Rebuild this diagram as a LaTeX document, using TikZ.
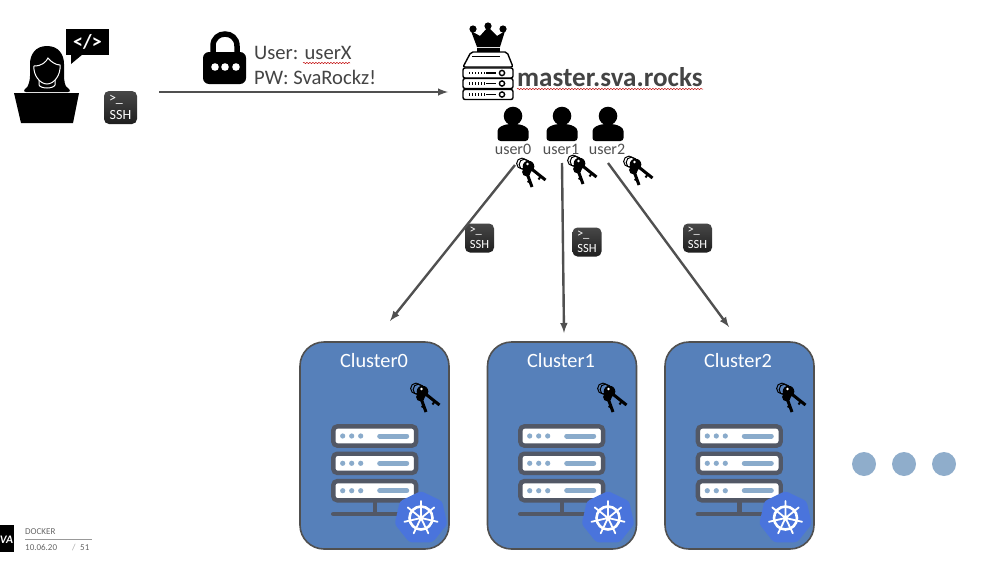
\documentclass[tikz,border=0pt]{standalone}
\usepackage{fontspec}
\setmainfont{Carlito}
\usetikzlibrary{arrows}
\usetikzlibrary{decorations.pathmorphing}
\definecolor{linegray}{HTML}{505050}
\definecolor{textgray}{HTML}{444444}
\definecolor{clusterblue}{HTML}{5680BA}
\definecolor{rackgray}{HTML}{525866}
\definecolor{rackblue}{HTML}{8AABCB}
\definecolor{kubeblue}{HTML}{4A74DC}
\definecolor{moreblue}{HTML}{8FADCB}
\tikzset{
  keys/.pic={
    \draw[line width=1pt] (-9,-8.5) circle[radius=5.4];
    \draw[line width=1pt] (-6.5,-7.5) circle[radius=5.4];
    \fill (-2.5,-5.5) circle[radius=5.8];
    \fill (-4.5,0) circle[radius=4.4];
    \draw[line width=3pt] (-2.5,-5.5)--(14.5,8);
    \draw[line width=3pt] (-4.5,0)--(1,15);
    \draw[line width=2pt] (10,4)--(7.5,7.5);
    \draw[line width=2pt] (-1,9)--(-3.5,10);
    \fill[white] (-3.5,-8) circle[radius=1.3];
  },
  person/.pic={
    \fill (0,-9) circle[radius=9.3];
    \fill[rounded corners=3pt] (-15.5,16)--(-15.5,9) .. controls (-15.5,2) and (-9,0) .. (-4,-1)--(4,-1) .. controls (9,0) and (15.5,2) .. (15.5,9)--(15.5,16)--cycle;
  },
  rackrow/.pic={
    \draw[rackgray,fill=white,line width=4.4pt,rounded corners=4pt] (-41.4,-9.6) rectangle (41.4,9.6);
    \fill[rackblue] (-32,0) circle[radius=2.6];
    \fill[rackblue] (-23,0) circle[radius=2.6];
    \fill[rackblue] (-14,0) circle[radius=2.6];
    \draw[rackblue,line width=5pt,line cap=round] (5,0)--(32,0);
  },
  rack/.pic={
    \pic at (0,0) {rackrow};
    \pic at (0,27.3) {rackrow};
    \pic at (0,54.7) {rackrow};
    \draw[rackgray,line width=4.4pt] (0,64)--(0,78);
    \draw[rackgray,line width=4.6pt,line cap=round] (-41.4,78)--(30,78);
  },
  kube/.pic={
    \fill[kubeblue,rounded corners=3pt] (-90:27)--(-38.6:27)--(12.9:27)--(64.3:27)--(115.7:27)--(167.1:27)--(218.6:27)--cycle;
    \draw[white,line width=2.6pt] (0,0) circle[radius=11.5];
    \fill[white] (0,0) circle[radius=2.6];
    \draw[white,line width=1.8pt,line cap=round] (0,0)--(-90:17) (0,0)--(-38.6:17) (0,0)--(12.9:17) (0,0)--(64.3:17) (0,0)--(115.7:17) (0,0)--(167.1:17) (0,0)--(218.6:17);
  },
  masterrow/.pic={
    \draw[black,fill=white,line width=1.4pt,rounded corners=2pt] (-25,-5) rectangle (25,5);
    \draw[line width=2.6pt,dash pattern=on 1.3pt off 1.7pt] (-19,0)--(-3,0);
    \draw[line width=1.6pt] (-2,0)--(8,0);
    \draw[line width=1.4pt] (14,0) circle[radius=2.6];
  }
}
\begin{document}
\begin{tikzpicture}[x=1pt,y=-1pt,node distance=40pt,
  link/.style={draw=linegray,line width=2.4pt,-latex},
  squiggle/.style={red!75!black,line width=.5pt,decorate,decoration={snake,amplitude=.6pt,segment length=3pt}},
  plaintext/.style={text=textgray,inner sep=0,anchor=base west},
  sshbox/.style={rounded corners=5pt,minimum size=29pt,inner sep=0,top color=black!72,bottom color=black!88,text=white,align=center,font=\fontsize{12.5}{14.5}\selectfont},
  cluster/.style={draw=linegray,line width=1.6pt,fill=clusterblue,rounded corners=24pt,minimum width=149pt,minimum height=207pt},
  clustertext/.style={text=white,font=\fontsize{20.3}{22}\selectfont},
  usertext/.style={text=linegray,inner sep=0,font=\fontsize{16}{18}\selectfont},
  moredot/.style={circle,fill=moreblue,minimum size=24pt,inner sep=0}]
  \useasboundingbox (0,0) rectangle (998,562);

  \fill (66,29) rectangle (109,55);
  \fill (71,54)--(71,64)--(83,54)--cycle;
  \node[text=white,inner sep=0,font=\bfseries\fontsize{20}{21}\selectfont] (code) at (87.5,41.5) {</>};
  \fill (47,46) .. controls (35,46) and (30,55) .. (30,64) -- (30,76) .. controls (30,82) and (28,85) .. (27,88) -- (67,88) .. controls (65,85) and (64,82) .. (64,74) -- (64,64) .. controls (64,55) and (59,46) .. (47,46);
  \fill[rounded corners=4pt] (22,92)--(29,85)--(65,85)--(72,92)--cycle;
  \draw[white,line width=1pt] (34,66) .. controls (42,66) and (46,62) .. (48,58) .. controls (51,62) and (56,65) .. (60,65) .. controls (61,75) and (54,84) .. (47,84) .. controls (40,84) and (33,75) .. (34,66);
  \draw[white,line width=1pt] (39,80) -- (39,85) .. controls (41,89) and (53,89) .. (55,85) -- (55,80);
  \fill (14,93)--(79,93)--(73,123)--(21,123)--cycle;
  \node[sshbox,minimum size=33pt,font=\fontsize{14}{16.5}\selectfont] (sshdev) at (120.5,107.5) {\makebox[23pt][l]{>\_}\\SSH};

  \fill[rounded corners=6pt] (203,52) rectangle (246,84);
  \draw[line width=5.5pt] (213,54)--(213,46) .. controls (213,30) and (237,30) .. (237,46)--(237,54);
  \fill[white] (215,67) circle[radius=3.8];
  \fill[white] (225,67) circle[radius=3.8];
  \fill[white] (236,67) circle[radius=3.8];
  \node[plaintext,font=\fontsize{20.6}{22}\selectfont] (login) at (254,59) {User: userX};
  \node[plaintext,font=\fontsize{20.6}{22}\selectfont] (password) at (254,84) {PW: SvaRockz!};
  \draw[squiggle] (303,63)--(350,63);

  \fill (471,31)--(480,36)--(488,27)--(497,36)--(505,31)--(500,47)--(477,47)--cycle;
  \fill (473,29) circle[radius=3.6];
  \fill (488,26) circle[radius=3.6];
  \fill (503,29) circle[radius=3.6];
  \fill (477,48) rectangle (500,52);
  \draw[line width=1.4pt,fill=white,rounded corners=2pt] (471,52)--(507,52)--(513,67)--(463,67)--cycle;
  \draw[line width=1.6pt] (472,56.5)--(500,56.5);
  \pic at (488,73) {masterrow};
  \pic at (488,83.5) {masterrow};
  \pic at (488,94.5) {masterrow};
  \node[plaintext,text=textgray,font=\bfseries\fontsize{27.1}{28}\selectfont] (master) at (517,86) {master.sva.rocks};
  \draw[squiggle] (517,89)--(703,89);

  \pic at (513,125) {person};
  \pic at (562,125) {person};
  \pic at (608,125) {person};
  \node[usertext] (user0) at (513,149) {user0};
  \node[usertext] (user1) at (561,149) {user1};
  \node[usertext] (user2) at (607,149) {user2};
  \pic at (531,172) {keys};
  \pic at (582,169) {keys};
  \pic at (638,170) {keys};

  \node[sshbox] (ssh0) at (479.5,238) {\makebox[20pt][l]{>\_}\\SSH};
  \node[sshbox] (ssh1) at (587,242) {\makebox[20pt][l]{>\_}\\SSH};
  \node[sshbox] (ssh2) at (697.5,238) {\makebox[20pt][l]{>\_}\\SSH};

  \node[cluster] (cluster0) at (374.5,445.5) {};
  \node[cluster] (cluster1) at (562,445.5) {};
  \node[cluster] (cluster2) at (739.5,445.5) {};
  \node[clustertext] (name0) at (374,361) {Cluster0};
  \node[clustertext] (name1) at (561,361) {Cluster1};
  \node[clustertext] (name2) at (738,361) {Cluster2};
  \pic at (425,397) {keys};
  \pic at (612,397) {keys};
  \pic at (791,397) {keys};
  \pic at (374.7,436) {rack};
  \pic at (561.7,436) {rack};
  \pic at (739.3,436) {rack};
  \pic at (421,518) {kube};
  \pic at (608,518) {kube};
  \pic at (785.5,518) {kube};

  \node[moredot] (more0) at (864,464) {};
  \node[moredot,right of=more0] (more1) {};
  \node[moredot,right of=more1] (more2) {};

  \coordinate (devout) at (159,92);
  \coordinate (masterin) at (448,92);
  \coordinate (out0) at (515,165);
  \coordinate (out1) at (562,163);
  \coordinate (out2) at (608,163);
  \coordinate (in0) at (390,321);
  \coordinate (in1) at (564,333);
  \coordinate (in2) at (729,327);
  \draw[link] (devout)--(masterin);
  \draw[link] (out0)--(in0);
  \draw[link] (out1)--(in1);
  \draw[link] (out2)--(in2);

  \fill (0,525) rectangle (13.5,552);
  \node[text=white,inner sep=0,anchor=east,font=\bfseries\itshape\fontsize{11.5}{12}\selectfont] (logo) at (13.2,540) {VA};
  \node[plaintext,text=black!60,font=\fontsize{9}{10}\selectfont] (deck) at (25,534) {DOCKER};
  \node[plaintext,text=black!60,font=\fontsize{9}{10}\selectfont] (date) at (25,550) {10.06.20};
  \node[plaintext,text=black!35,font=\fontsize{9}{10}\selectfont] (slash) at (72,550) {/};
  \node[plaintext,text=black!60,font=\fontsize{9}{10}\selectfont] (page) at (80,550) {51};
  \draw[black!40,line width=.6pt] (25,539.3)--(92,539.3);
\end{tikzpicture}
\end{document}
